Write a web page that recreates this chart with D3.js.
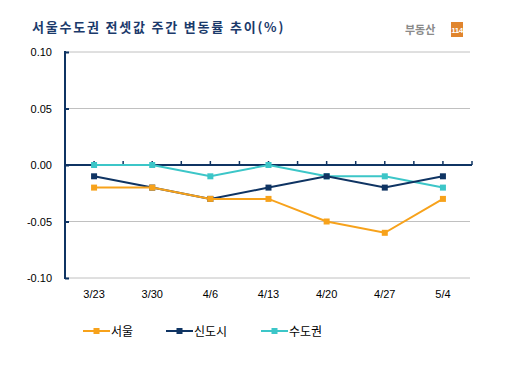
<!DOCTYPE html>
<html><head><meta charset="utf-8">
<script src="https://cdn.jsdelivr.net/npm/d3@7"></script>
<style>body{margin:0;background:#fff;}svg{display:block;font-family:"Liberation Sans",Arial,sans-serif;}</style>
</head><body>
<script>
const categories = ["3/23","3/30","4/6","4/13","4/20","4/27","5/4"];
const seoul = [-0.02,-0.02,-0.03,-0.03,-0.05,-0.06,-0.03];
const newTown = [-0.01,-0.02,-0.03,-0.02,-0.01,-0.02,-0.01];
const capital = [0,0,-0.01,0,-0.01,-0.01,-0.02];
const seriesNames = ["서울","신도시","수도권"];
const seriesColors = ["#F7A21B","#0F3463","#3CC6C8"];
const yTicks = [0.10,0.05,0.00,-0.05,-0.10];
const title = "서울수도권 전셋값 주간 변동률 추이(%)";

const W=529,H=367;
const svg=d3.select("body").append("svg").attr("width",W).attr("height",H);
const pL=65,pR=472,pT=52,pB=278;
const x=d3.scaleBand().domain(categories).range([pL,pR]);
const y=d3.scaleLinear().domain([-0.1,0.1]).range([pB,pT]);

// title
svg.append("text").attr("x",32).attr("y",32).attr("fill","#1B3A6B")
  .attr("font-size",13).attr("font-weight","bold").attr("letter-spacing",1.8)
  .attr("font-family","'Noto Sans CJK KR',sans-serif").text(title);
// logo
svg.append("text").attr("x",405).attr("y",34).attr("fill","#8a8a8a").attr("font-size",11)
  .attr("font-weight","bold").attr("font-family","'Noto Sans CJK KR',sans-serif").text("부동산");
svg.append("rect").attr("x",451).attr("y",22).attr("width",12).attr("height",15).attr("fill","#E0852E");
svg.append("text").attr("x",457).attr("y",33).attr("fill","#fff").attr("font-size",8).attr("text-anchor","middle")
  .attr("font-weight","bold").attr("letter-spacing",-0.5).text("114");

// gridlines
svg.append("g").selectAll("line").data(yTicks.filter(d=>d!==0)).join("line")
  .attr("x1",pL).attr("x2",pR-2).attr("y1",d=>y(d)).attr("y2",d=>y(d))
  .attr("stroke","#C0C0C0").attr("stroke-width",1);

// y axis
const yAxis=d3.axisRight(y).tickValues(yTicks).tickSize(4).tickFormat("");
const gy=svg.append("g").attr("transform",`translate(${pL},0)`).call(yAxis);
gy.select(".domain").remove();
gy.selectAll(".tick line").attr("stroke","#0F3463").attr("stroke-width",2);
svg.append("line").attr("x1",pL).attr("x2",pL).attr("y1",pT-1).attr("y2",pB+1)
  .attr("stroke","#0F3463").attr("stroke-width",2);
svg.append("g").selectAll("text").data(yTicks).join("text")
  .attr("x",52).attr("y",d=>y(d)+4).attr("text-anchor","end").attr("font-size",11).attr("fill","#000")
  .text(d=>d3.format(".2f")(d).replace("−","-"));

// zero axis with ticks at half-band
svg.append("line").attr("x1",pL).attr("x2",pR).attr("y1",y(0)).attr("y2",y(0))
  .attr("stroke","#0F3463").attr("stroke-width",2);
const halfTicks=d3.range(1,categories.length*2+1).map(i=>pL+i*x.bandwidth()/2);
svg.append("g").selectAll("line").data(halfTicks).join("line")
  .attr("x1",d=>d).attr("x2",d=>d).attr("y1",y(0)).attr("y2",y(0)-4)
  .attr("stroke","#0F3463").attr("stroke-width",1.5);

// x labels
const xAxis=d3.axisBottom(x).tickSize(0).tickPadding(0);
const gx=svg.append("g").attr("transform",`translate(0,${pB+12})`).call(xAxis);
gx.select(".domain").remove();
gx.selectAll("text").attr("font-size",11).attr("fill","#000").attr("font-family","'Liberation Sans',Arial,sans-serif");

// series
const data=[seoul,newTown,capital];
const cx=c=>x(c)+x.bandwidth()/2;
const line=d3.line().x((d,i)=>cx(categories[i])).y(d=>y(d));
[2,1,0].forEach(k=>{
  svg.append("path").attr("d",line(data[k])).attr("fill","none").attr("stroke",seriesColors[k]).attr("stroke-width",2);
  svg.append("g").selectAll("rect").data(data[k]).join("rect")
    .attr("x",(d,i)=>cx(categories[i])-3).attr("y",d=>y(d)-3).attr("width",6).attr("height",6)
    .attr("fill",seriesColors[k]);
});

// legend
const legX=[83,166,261];
seriesNames.forEach((n,k)=>{
  const g=svg.append("g").attr("transform",`translate(${legX[k]},331)`);
  g.append("line").attr("x1",0).attr("x2",27).attr("stroke",seriesColors[k]).attr("stroke-width",2);
  g.append("rect").attr("x",10.5).attr("y",-3).attr("width",6).attr("height",6).attr("fill",seriesColors[k]);
  g.append("text").attr("x",28).attr("y",5).attr("font-size",12).attr("fill","#000")
    .attr("font-family","'Noto Sans CJK KR',sans-serif").text(n);
});
</script>
</body></html>
